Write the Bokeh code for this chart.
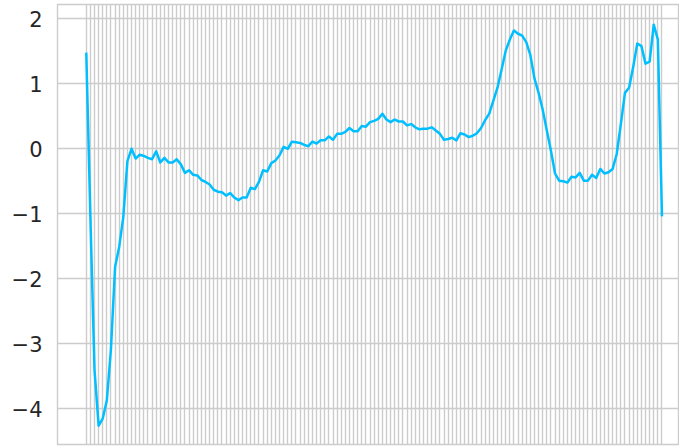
from bokeh.plotting import figure
from bokeh.models import Range1d, FixedTicker, Grid
from bokeh.embed import file_html
from bokeh.resources import INLINE

values = [
    1.48, -1.05, -3.40, -4.26, -4.15, -3.87, -3.08, -1.82, -1.51, -1.05,
    -0.19, 0.00, -0.15, -0.09, -0.11, -0.14, -0.16, -0.04, -0.21, -0.14,
    -0.21, -0.21, -0.16, -0.24, -0.37, -0.33, -0.40, -0.41, -0.48, -0.51,
    -0.55, -0.63, -0.66, -0.67, -0.72, -0.68, -0.75, -0.79, -0.75, -0.75,
    -0.60, -0.62, -0.51, -0.33, -0.35, -0.22, -0.18, -0.10, 0.03, 0.00,
    0.11, 0.10, 0.09, 0.06, 0.04, 0.11, 0.08, 0.13, 0.13, 0.19,
    0.14, 0.23, 0.23, 0.26, 0.32, 0.27, 0.27, 0.35, 0.34, 0.41,
    0.43, 0.46, 0.54, 0.45, 0.41, 0.45, 0.42, 0.42, 0.36, 0.38,
    0.33, 0.30, 0.31, 0.31, 0.33, 0.28, 0.23, 0.14, 0.15, 0.17,
    0.13, 0.24, 0.22, 0.18, 0.20, 0.24, 0.32, 0.44, 0.54, 0.74,
    0.94, 1.22, 1.51, 1.68, 1.82, 1.77, 1.74, 1.64, 1.44, 1.08,
    0.86, 0.60, 0.28, -0.03, -0.38, -0.49, -0.50, -0.52, -0.43, -0.44,
    -0.37, -0.49, -0.49, -0.40, -0.45, -0.31, -0.38, -0.36, -0.31, -0.08,
    0.38, 0.86, 0.94, 1.26, 1.62, 1.58, 1.31, 1.34, 1.91, 1.68,
    -1.04,
]
x = list(range(len(values)))

y_ticks = [-4, -3, -2, -1, 0, 1, 2]
y_labels = ["\u22124", "\u22123", "\u22122", "\u22121", "0", "1", "2"]

W, H = 679, 446
LEFT, TOP, BOTTOM = 57, 4, 2
PX_PER_X = 4.112
PX_PER_Y = 65.0
ZERO_PX = 148.3

x_start = -0.05 * (len(values) - 1)
x_end = x_start + (W - LEFT) / PX_PER_X
y_top = (ZERO_PX - TOP) / PX_PER_Y
y_bottom = (ZERO_PX - (H - BOTTOM)) / PX_PER_Y

p = figure(
    width=W, height=H,
    output_backend="svg", toolbar_location=None,
    x_axis_location=None,
    x_range=Range1d(x_start, x_end),
    y_range=Range1d(y_bottom, y_top),
    min_border_left=LEFT, min_border_right=0,
    min_border_top=TOP, min_border_bottom=BOTTOM,
)
p.background_fill_color = "white"
p.border_fill_color = "white"
p.outline_line_color = "#cccccc"
p.outline_line_width = 1.4

for g in p.xgrid:
    g.visible = False
vgrid = Grid(dimension=0, ticker=FixedTicker(ticks=x),
             grid_line_color="#cccccc", grid_line_width=1.4)
p.add_layout(vgrid, "center")

p.yaxis.ticker = FixedTicker(ticks=y_ticks)
p.yaxis.major_label_overrides = dict(zip(y_ticks, y_labels))
p.yaxis.axis_line_color = None
p.yaxis.major_tick_line_color = None
p.yaxis.minor_tick_line_color = None
p.yaxis.major_tick_out = 0
p.yaxis.major_tick_in = 0
p.yaxis.major_label_standoff = 15
p.yaxis.major_label_text_font = "DejaVu Sans"
p.yaxis.major_label_text_font_size = "21px"
p.yaxis.major_label_text_color = "#262626"
p.ygrid.grid_line_color = "#cccccc"
p.ygrid.grid_line_width = 1.4

p.line(x, values, line_color="#00bfff", line_width=2.5, line_join="round")

open("out.html", "w").write(file_html(p, INLINE))
